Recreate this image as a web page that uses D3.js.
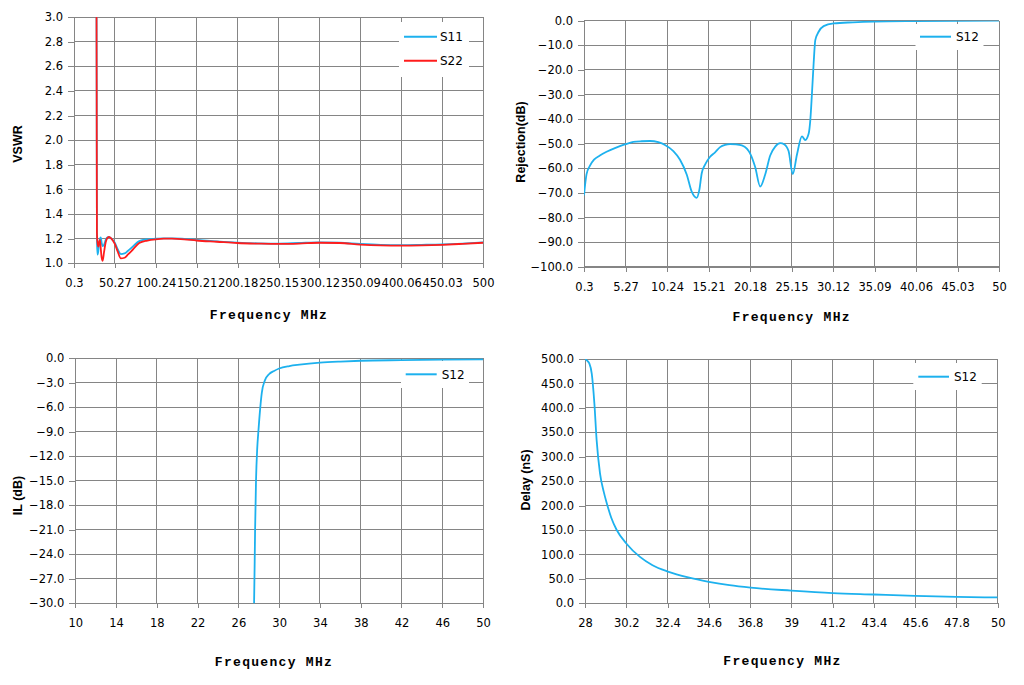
<!DOCTYPE html>
<html>
<head>
<meta charset="utf-8">
<script src="https://cdn.jsdelivr.net/npm/d3@7"></script>
<style>
  body { margin: 0; background: #fff; }
  svg { display: block; }
</style>
</head>
<body>
<script>
// ---- data ----
var vswrFreq = [0.3, 10, 20, 25, 27, 27.6, 28.0, 28.3, 29.0, 30.0, 31.0, 32.0, 33.0, 34.0, 35.3, 37, 39, 41, 43, 46,
    50, 54, 57.5, 62, 66, 72, 80, 90, 100, 110, 120, 135, 150, 175, 200, 225, 250, 275, 300, 325,
    350, 375, 400, 425, 450, 475, 500];
var vswrS11 = [40, 40, 30, 15, 6, 3.8, 2.4, 1.2, 1.07, 1.1, 1.16, 1.2, 1.21, 1.17, 1.14, 1.15, 1.19, 1.21, 1.215, 1.2,
    1.17, 1.11, 1.075, 1.08, 1.1, 1.135, 1.18, 1.195, 1.2, 1.203, 1.203, 1.198, 1.19, 1.178, 1.168, 1.162, 1.16, 1.165, 1.17, 1.167,
    1.157, 1.15, 1.148, 1.15, 1.153, 1.16, 1.17];
var vswrS22 = [40, 40, 30, 15, 6, 3.8, 2.4, 1.25, 1.17, 1.135, 1.17, 1.19, 1.12, 1.05, 1.02, 1.09, 1.17, 1.205, 1.215, 1.2,
    1.16, 1.09, 1.04, 1.045, 1.07, 1.11, 1.165, 1.185, 1.195, 1.2, 1.2, 1.195, 1.185, 1.175, 1.165, 1.16, 1.157, 1.16, 1.167, 1.165,
    1.152, 1.145, 1.143, 1.145, 1.15, 1.158, 1.167];

var rejFreq = [0.3, 0.6, 1.0, 1.5, 2.2, 3.0, 4.0, 5.27, 6.2, 7.2, 8.2, 9.2, 10.0, 11.0, 11.8, 12.6, 13.2, 13.8, 14.1, 14.4,
    14.8, 15.4, 16.0, 16.6, 17.2, 17.8, 18.5, 19.2, 19.8, 20.2, 20.8, 21.4, 22.0, 22.6, 23.2, 23.8, 24.3, 24.8, 25.3, 25.8,
    26.4, 26.8, 27.2, 27.4, 27.6, 27.8, 28.0, 28.4, 29.0, 30.2, 32.5, 35, 40, 45, 50];
var rejS12 = [-71, -62.5, -59, -56.5, -54.8, -53.3, -51.8, -50.2, -49.3, -49, -48.9, -49.4, -50.5, -53, -56.5, -62.5, -69.5, -72, -69, -62,
    -58.5, -55.3, -53.5, -51.4, -50.5, -50.2, -50.3, -50.7, -52, -54, -59.5, -67.4, -62.5, -54.8, -51.2, -49.8, -50.3, -53, -62.4, -54.5,
    -47, -48.5, -46, -40.5, -29.6, -17.4, -7.9, -4.5, -2.2, -1.1, -0.65, -0.35, -0.15, -0.05, 0];

var ilFreq = [10, 20, 25, 27, 27.4, 27.54, 27.64, 27.73, 27.85, 27.96, 28.15, 28.3, 28.6, 29.0, 29.5, 30, 31, 32, 34, 36,
    38, 42, 46, 50];
var ilS12 = [-80, -70, -55, -40, -33, -30, -21, -15, -11, -9, -6, -4.2, -2.7, -1.95, -1.55, -1.25, -0.95, -0.78, -0.54, -0.4,
    -0.3, -0.22, -0.16, -0.12];

var delayFreq = [28, 28.1, 28.23, 28.36, 28.5, 28.62, 28.8, 29.0, 29.16, 29.4, 29.69, 30.19, 30.93, 31.6, 32.42, 33.5, 34.6, 35.7, 36.83, 39.0,
    41.2, 43.4, 45.6, 47.8, 50];
var delayS12 = [500, 497, 491, 470, 409, 334, 266, 228, 205, 175, 150, 123, 95, 78, 65, 53, 44, 37, 32, 26,
    21, 18, 15, 13, 12];

// tick labels
var vswrXTicks = ["0.3", "50.27", "100.24", "150.21", "200.18", "250.15", "300.12", "350.09", "400.06", "450.03", "500"];
var vswrYTicks = [1.0, 1.2, 1.4, 1.6, 1.8, 2.0, 2.2, 2.4, 2.6, 2.8, 3.0];
var rejXTicks = ["0.3", "5.27", "10.24", "15.21", "20.18", "25.15", "30.12", "35.09", "40.06", "45.03", "50"];
var rejYTicks = [0, -10, -20, -30, -40, -50, -60, -70, -80, -90, -100];
var ilXTicks = ["10", "14", "18", "22", "26", "30", "34", "38", "42", "46", "50"];
var ilYTicks = [0, -3, -6, -9, -12, -15, -18, -21, -24, -27, -30];
var delayXTicks = ["28", "30.2", "32.4", "34.6", "36.8", "39", "41.2", "43.4", "45.6", "47.8", "50"];
var delayYTicks = [0, 50, 100, 150, 200, 250, 300, 350, 400, 450, 500];

var BLUE = "#1db1ee", RED = "#ff1c1c", GRID = "#858585";

var svg = d3.select("body").append("svg")
    .attr("width", 1024)
    .attr("height", 685);

var clipN = 0;
function panel(o){
    var x = d3.scaleLinear().domain(o.xDomain).range([o.x0, o.x1]);
    var y = d3.scaleLinear().domain(o.yDomain).range([o.y1, o.y0]);
    var g = svg.append("g");
    var xt = o.xTicks.map(Number);

    // grid
    g.selectAll(".vg").data(xt).join("line")
        .attr("x1", d => x(d)).attr("x2", d => x(d))
        .attr("y1", o.y0).attr("y2", o.y1)
        .attr("stroke", GRID).attr("shape-rendering", "crispEdges");
    g.selectAll(".hg").data(o.yTicks).join("line")
        .attr("x1", o.x0).attr("x2", o.x1)
        .attr("y1", d => y(d)).attr("y2", d => y(d))
        .attr("stroke", GRID).attr("shape-rendering", "crispEdges");

    // axes
    var ax = g.append("g").attr("transform", "translate(0," + o.y1 + ")")
        .call(d3.axisBottom(x).tickValues(xt).tickSize(5).tickSizeOuter(0).tickPadding(11)
            .tickFormat((d, i) => o.xTicks[i]));
    var ay = g.append("g").attr("transform", "translate(" + o.x0 + ",0)")
        .call(d3.axisLeft(y).tickValues(o.yTicks).tickSize(6).tickSizeOuter(0).tickPadding(5)
            .tickFormat(d3.format(".1f")));
    [ax, ay].forEach(function(a){
        a.selectAll("path,line").attr("stroke", GRID).attr("shape-rendering", "crispEdges");
        a.selectAll("text").attr("fill", "#000")
            .attr("font-family", "DejaVu Sans").attr("font-size", "11.5px");
    });

    // curves
    var id = "clip" + (clipN++);
    svg.append("clipPath").attr("id", id).append("rect")
        .attr("x", o.x0).attr("y", o.y0)
        .attr("width", o.x1 - o.x0).attr("height", o.y1 - o.y0);
    var line = d3.line().x(d => x(d[0])).y(d => y(d[1])).curve(d3.curveMonotoneX);
    o.series.forEach(function(s){
        g.append("path")
            .datum(d3.zip(s.x, s.y))
            .attr("clip-path", "url(#" + id + ")")
            .attr("fill", "none")
            .attr("stroke", s.color)
            .attr("stroke-width", 1.8)
            .attr("d", line);
    });

    // legend
    var L = o.legend;
    g.append("rect").attr("x", L.bx).attr("y", L.by).attr("width", L.bw).attr("height", L.bh).attr("fill", "#fff");
    o.series.forEach(function(s, i){
        var ly = L.ly[i];
        g.append("line").attr("x1", L.lx0).attr("x2", L.lx1).attr("y1", ly).attr("y2", ly)
            .attr("stroke", s.color).attr("stroke-width", 2);
        g.append("text").text(s.name).attr("x", L.tx).attr("y", ly + 4.5)
            .attr("font-family", "DejaVu Sans").attr("font-size", "12px").attr("fill", "#000");
    });

    // titles
    g.append("text").text(o.yTitle)
        .attr("transform", "translate(" + o.yTitlePos[0] + "," + o.yTitlePos[1] + ") rotate(-90)")
        .attr("text-anchor", "middle")
        .attr("font-family", "Liberation Sans").attr("font-weight", "bold").attr("font-size", "12.5px");
    g.append("text").text("Frequency MHz")
        .attr("x", o.xTitlePos[0]).attr("y", o.xTitlePos[1])
        .attr("text-anchor", "middle")
        .attr("font-family", "Liberation Mono").attr("font-weight", "bold").attr("font-size", "13px")
        .attr("letter-spacing", "1.3px");
}

panel({
    x0: 74, x1: 483, y0: 17, y1: 263.3,
    xDomain: [0.3, 500], yDomain: [1, 3],
    xTicks: vswrXTicks, yTicks: vswrYTicks,
    series: [{name: "S11", x: vswrFreq, y: vswrS11, color: BLUE},
             {name: "S22", x: vswrFreq, y: vswrS22, color: RED}],
    legend: {bx: 399, by: 22, bw: 70, bh: 55, ly: [36.7, 60.7], lx0: 404, lx1: 437, tx: 440},
    yTitle: "VSWR", yTitlePos: [21.5, 144],
    xTitlePos: [269, 319]
});
panel({
    x0: 584, x1: 999, y0: 20.7, y1: 266.7,
    xDomain: [0.3, 50], yDomain: [-100, 0],
    xTicks: rejXTicks, yTicks: rejYTicks,
    series: [{name: "S12", x: rejFreq, y: rejS12, color: BLUE}],
    legend: {bx: 915.5, by: 24, bw: 68, bh: 26, ly: [36.7], lx0: 920, lx1: 951, tx: 956},
    yTitle: "Rejection(dB)", yTitlePos: [525, 142],
    xTitlePos: [791.7, 321]
});
panel({
    x0: 75.3, x1: 483, y0: 358.3, y1: 603.3,
    xDomain: [10, 50], yDomain: [-30, 0],
    xTicks: ilXTicks, yTicks: ilYTicks,
    series: [{name: "S12", x: ilFreq, y: ilS12, color: BLUE}],
    legend: {bx: 401, by: 361, bw: 68, bh: 27, ly: [374.3], lx0: 405.7, lx1: 436.7, tx: 441.7},
    yTitle: "IL (dB)", yTitlePos: [22, 495.5],
    xTitlePos: [274, 666]
});
panel({
    x0: 585, x1: 997.7, y0: 359, y1: 603.3,
    xDomain: [28, 50], yDomain: [0, 500],
    xTicks: delayXTicks, yTicks: delayYTicks,
    series: [{name: "S12", x: delayFreq, y: delayS12, color: BLUE}],
    legend: {bx: 913.3, by: 363, bw: 68.4, bh: 27, ly: [376.7], lx0: 918.3, lx1: 949, tx: 954},
    yTitle: "Delay (nS)", yTitlePos: [530, 480],
    xTitlePos: [782.5, 665]
});
</script>
</body>
</html>
